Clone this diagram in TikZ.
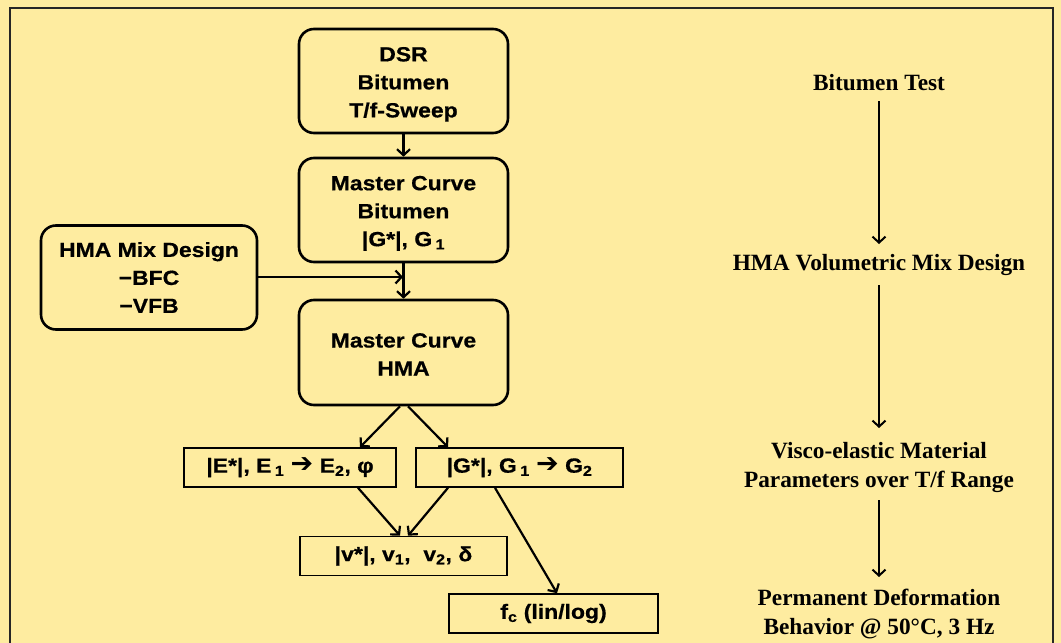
\documentclass[tikz,border=0pt]{standalone}
\usepackage{fontspec}
\setmainfont{Liberation Sans}
\newfontfamily\boxfont[FakeStretch=1.12, FakeBold=0.6]{Liberation Sans Bold}
\newfontfamily\serifbf{Liberation Serif Bold}
\newfontfamily\dingfont{DejaVu Sans}
\usetikzlibrary{arrows.meta}
\definecolor{paper}{RGB}{254,236,160}
\newcommand{\harrow}{{\fontsize{27}{20}\dingfont\char"2794}}
\newcommand{\toplift}{\rule{0pt}{21pt}}
\tikzset{
  x=1pt, y=-1pt,
  bigbox/.style={draw, line width=2.6pt, rounded corners=15pt, align=center,
    font=\fontsize{20.5}{28}\boxfont, inner sep=0pt},
  smallbox/.style={draw, line width=1.6pt, align=center,
    font=\fontsize{20.5}{24}\boxfont, inner sep=0pt},
  flow/.style={line width=2.2pt, -{Straight Barb[length=6pt,width=13pt,line width=2.2pt]}},
  sideflow/.style={line width=2pt, -{Straight Barb[length=6pt,width=13pt,line width=2pt]}},
  sidetext/.style={align=center, font=\fontsize{23.3}{29}\serifbf, inner sep=0pt}
}
\begin{document}
\begin{tikzpicture}
  % page and frame
  \fill[paper] (0,0) rectangle (1061,643);
  \useasboundingbox (0,0) rectangle (1061,643);
  \draw[black!85, line width=1.3pt] (10,660) -- (10,8) -- (1053,8) -- (1053,660);

  % left flow chart
  \node[bigbox, minimum width=209pt, minimum height=104pt] (dsr) at (403.5,81)
    {\toplift DSR\\Bitumen\\T/f-Sweep};
  \node[bigbox, minimum width=209pt, minimum height=104pt] (mcb) at (403.5,210)
    {\toplift Master Curve\\Bitumen\\|G*|, G\,\textsubscript{1}};
  \node[bigbox, minimum width=216pt, minimum height=104pt] (mix) at (149,277.5)
    {HMA Mix Design\\−BFC\\−VFB};
  \node[bigbox, minimum width=209pt, minimum height=105pt] (mch) at (403.5,352.5)
    {\rule{0pt}{18pt}Master Curve\\HMA};

  \node[smallbox, minimum width=212pt, minimum height=39pt] (e) at (290,467.5)
    {|E*|, E\,\textsubscript{1} \harrow{} E\textsubscript{2}, φ};
  \node[smallbox, minimum width=207pt, minimum height=39pt] (g) at (519.5,467.5)
    {|G*|, G\,\textsubscript{1} \harrow{} G\textsubscript{2}};
  \node[smallbox, minimum width=207pt, minimum height=39pt] (v) at (403.5,556)
    {|v*|, v\textsubscript{1}, \ v\textsubscript{2}, δ};
  \node[smallbox, minimum width=209pt, minimum height=39pt] (fc) at (553.5,613.5)
    {f\textsubscript{c} (lin/log)};

  \coordinate (join) at (403,277);
  \draw[flow] (dsr.south) -- (mcb.north);
  \draw[flow] (mcb.south) -- (mch.north);
  \draw[flow] (mix.east |- join) -- (join);
  \draw[flow] (mch.south -| 400,0) -- (e.north -| 360,0);
  \draw[flow] (mch.south -| 408,0) -- (g.north -| 448,0);
  \draw[flow] (e.south -| 358,0) -- (v.north -| 400,0);
  \draw[flow] (g.south -| 448,0) -- (v.north -| 408,0);
  \draw[flow] (g.south -| 495,0) -- (fc.north -| 557,0);

  % right column: procedure steps
  \node[sidetext] (s1) at (879,83) {Bitumen Test};
  \node[sidetext] (s2) at (879,265) {HMA Volumetric Mix Design};
  \node[sidetext] (s3) at (879,467.5) {Visco-elastic Material\\Parameters over T/f Range};
  \node[sidetext] (s4) at (879,614) {Permanent Deformation\\Behavior @ 50°C, 3 Hz};
  \draw[sideflow] (s1.south |- 0,101) -- (s2.north |- 0,244);
  \draw[sideflow] (s2.south |- 0,285) -- (s3.north |- 0,428);
  \draw[sideflow] (s3.south |- 0,500) -- (s4.north |- 0,577);
\end{tikzpicture}
\end{document}
